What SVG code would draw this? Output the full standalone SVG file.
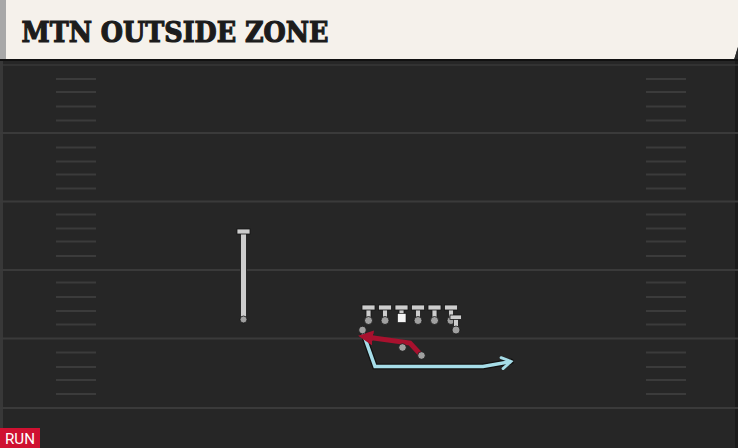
<svg xmlns="http://www.w3.org/2000/svg" width="738" height="448" viewBox="0 0 738 448">
<style>
.yard{stroke:#3a3a3a;stroke-width:2}
.hash{stroke:#3b3b3b;stroke-width:2}
.bar{fill:#cdcdcd;stroke:#151515;stroke-width:0.8}
.dot{fill:#a0a0a0;stroke:#151515;stroke-width:0.8}
.route-out{fill:none;stroke:#121212;stroke-width:6;stroke-linejoin:miter;stroke-linecap:round}
</style>
<defs>
<marker id="arRed" viewBox="0 0 10 10" refX="2" refY="5" markerWidth="3" markerHeight="3" orient="auto" markerUnits="strokeWidth">
<path d="M0,0 L10,5 L0,10 z" fill="#a8112e"/>
</marker>
<marker id="arCyan" viewBox="0 0 10 10" refX="8" refY="5" markerWidth="4" markerHeight="4" orient="auto" markerUnits="strokeWidth">
<path d="M1.5,1 L8,5 L1.5,9" fill="none" stroke="#a6dde8" stroke-width="2" stroke-linecap="round" stroke-linejoin="miter"/>
</marker>
</defs>
<rect x="0" y="0" width="738" height="448" fill="#242424"/>
<rect x="0" y="60" width="738" height="388" fill="#262626"/>
<rect x="0" y="60" width="3" height="388" fill="#383838"/>
<rect x="735" y="60" width="3" height="388" fill="#1b1b1b"/>
<g id="field">
<line class="yard" x1="0" y1="65" x2="738" y2="65" stroke-opacity="0.6"/>
<line class="yard" x1="0" y1="133" x2="738" y2="133"/>
<line class="yard" x1="0" y1="201.5" x2="738" y2="201.5"/>
<line class="yard" x1="0" y1="270" x2="738" y2="270"/>
<line class="yard" x1="0" y1="338.5" x2="738" y2="338.5"/>
<line class="yard" x1="0" y1="408" x2="738" y2="408"/>
<g id="hashes-left">
<line class="hash" x1="56" y1="79" x2="96" y2="79"/>
<line class="hash" x1="56" y1="92" x2="96" y2="92"/>
<line class="hash" x1="56" y1="106.5" x2="96" y2="106.5"/>
<line class="hash" x1="56" y1="120.5" x2="96" y2="120.5"/>
<line class="hash" x1="56" y1="147.5" x2="96" y2="147.5"/>
<line class="hash" x1="56" y1="161.5" x2="96" y2="161.5"/>
<line class="hash" x1="56" y1="174.5" x2="96" y2="174.5"/>
<line class="hash" x1="56" y1="188.5" x2="96" y2="188.5"/>
<line class="hash" x1="56" y1="214.5" x2="96" y2="214.5"/>
<line class="hash" x1="56" y1="228.5" x2="96" y2="228.5"/>
<line class="hash" x1="56" y1="241.5" x2="96" y2="241.5"/>
<line class="hash" x1="56" y1="256" x2="96" y2="256"/>
<line class="hash" x1="56" y1="282.5" x2="96" y2="282.5"/>
<line class="hash" x1="56" y1="297" x2="96" y2="297"/>
<line class="hash" x1="56" y1="311" x2="96" y2="311"/>
<line class="hash" x1="56" y1="324.5" x2="96" y2="324.5"/>
<line class="hash" x1="56" y1="352.5" x2="96" y2="352.5"/>
<line class="hash" x1="56" y1="367" x2="96" y2="367"/>
<line class="hash" x1="56" y1="380" x2="96" y2="380"/>
<line class="hash" x1="56" y1="394" x2="96" y2="394"/>
</g>
<g id="hashes-right">
<line class="hash" x1="646" y1="79" x2="686" y2="79"/>
<line class="hash" x1="646" y1="92" x2="686" y2="92"/>
<line class="hash" x1="646" y1="106.5" x2="686" y2="106.5"/>
<line class="hash" x1="646" y1="120.5" x2="686" y2="120.5"/>
<line class="hash" x1="646" y1="147.5" x2="686" y2="147.5"/>
<line class="hash" x1="646" y1="161.5" x2="686" y2="161.5"/>
<line class="hash" x1="646" y1="174.5" x2="686" y2="174.5"/>
<line class="hash" x1="646" y1="188.5" x2="686" y2="188.5"/>
<line class="hash" x1="646" y1="214.5" x2="686" y2="214.5"/>
<line class="hash" x1="646" y1="228.5" x2="686" y2="228.5"/>
<line class="hash" x1="646" y1="241.5" x2="686" y2="241.5"/>
<line class="hash" x1="646" y1="256" x2="686" y2="256"/>
<line class="hash" x1="646" y1="282.5" x2="686" y2="282.5"/>
<line class="hash" x1="646" y1="297" x2="686" y2="297"/>
<line class="hash" x1="646" y1="311" x2="686" y2="311"/>
<line class="hash" x1="646" y1="324.5" x2="686" y2="324.5"/>
<line class="hash" x1="646" y1="352.5" x2="686" y2="352.5"/>
<line class="hash" x1="646" y1="367" x2="686" y2="367"/>
<line class="hash" x1="646" y1="380" x2="686" y2="380"/>
<line class="hash" x1="646" y1="394" x2="686" y2="394"/>
</g>
</g>
<g id="header">
<rect x="0" y="0" width="6" height="60" fill="#a8a8a8"/>
<polygon points="6,0 738,0 738,47 734,60 6,60" fill="#f5f1eb"/>
<polygon points="738,47 738,60 734,60" fill="#2a2a2a"/>
<rect x="0" y="59" width="738" height="2" fill="#111"/>
<text x="21.5" y="42" font-family="'DejaVu Serif', serif" font-weight="bold" font-size="28" fill="#1c1c1c" stroke="#1c1c1c" stroke-width="1.2" textLength="307" lengthAdjust="spacingAndGlyphs">MTN OUTSIDE ZONE</text>
</g>
<g id="connectors">
<polyline class="route-out" points="362,330 375,366.5 483,366.5 511,361.5"/>
<polyline points="362,330 375,366.5 483,366.5 511,361.5" fill="none" stroke="#a6dde8" stroke-width="3.5" stroke-linejoin="miter" marker-end="url(#arCyan)"/>
<polyline points="421.5,355.5 410,343 370,337.5" fill="none" stroke="#a8112e" stroke-width="5" stroke-linejoin="miter" marker-end="url(#arRed)"/>
</g>
<g id="wr">
<rect class="bar" x="240.5" y="232" width="6" height="87"/>
<rect class="bar" x="237" y="229" width="13" height="5"/>
<circle class="dot" cx="243.5" cy="319.5" r="3.5"/>
</g>
<g id="lt">
<rect class="bar" x="366" y="308" width="5" height="12"/>
<rect class="bar" x="362" y="305" width="13" height="5"/>
<circle class="dot" cx="368.5" cy="320.5" r="4"/>
</g>
<g id="lg">
<rect class="bar" x="382.5" y="308" width="5" height="12"/>
<rect class="bar" x="378.5" y="305" width="13" height="5"/>
<circle class="dot" cx="385" cy="320.5" r="4"/>
</g>
<g id="c">
<rect class="bar" x="399" y="308" width="5" height="6"/>
<rect class="bar" x="395" y="305" width="13" height="5"/>
<rect x="397.5" y="313.5" width="8.5" height="9" fill="#f4f4f4" stroke="#151515" stroke-width="0.6"/>
</g>
<g id="rg">
<rect class="bar" x="415.5" y="308" width="5" height="12"/>
<rect class="bar" x="411.5" y="305" width="13" height="5"/>
<circle class="dot" cx="418" cy="320.5" r="4"/>
</g>
<g id="rt">
<rect class="bar" x="432" y="308" width="5" height="12"/>
<rect class="bar" x="428" y="305" width="13" height="5"/>
<circle class="dot" cx="434.5" cy="320.5" r="4"/>
</g>
<g id="te1">
<rect class="bar" x="448.5" y="308" width="5" height="12"/>
<rect class="bar" x="444.5" y="305" width="13" height="5"/>
<circle class="dot" cx="451" cy="320.5" r="4"/>
</g>
<g id="te2">
<rect class="bar" x="453.5" y="317" width="5" height="12"/>
<rect class="bar" x="450" y="315" width="11.5" height="4.5"/>
<circle class="dot" cx="456" cy="330" r="4"/>
</g>
<g id="qb">
<circle class="dot" cx="362.5" cy="330" r="3.8"/>
</g>
<g id="rb">
<circle class="dot" cx="421.5" cy="355.5" r="3.8"/>
</g>
<g id="fb">
<circle class="dot" cx="402.5" cy="347.5" r="3.8"/>
</g>
<g id="badge">
<rect x="0" y="428" width="40" height="20" fill="#cf1131"/>
<text x="5" y="444" font-family="Roboto, 'Liberation Sans', sans-serif" font-size="14" fill="#ffffff" textLength="30" lengthAdjust="spacingAndGlyphs">RUN</text>
</g>
</svg>
